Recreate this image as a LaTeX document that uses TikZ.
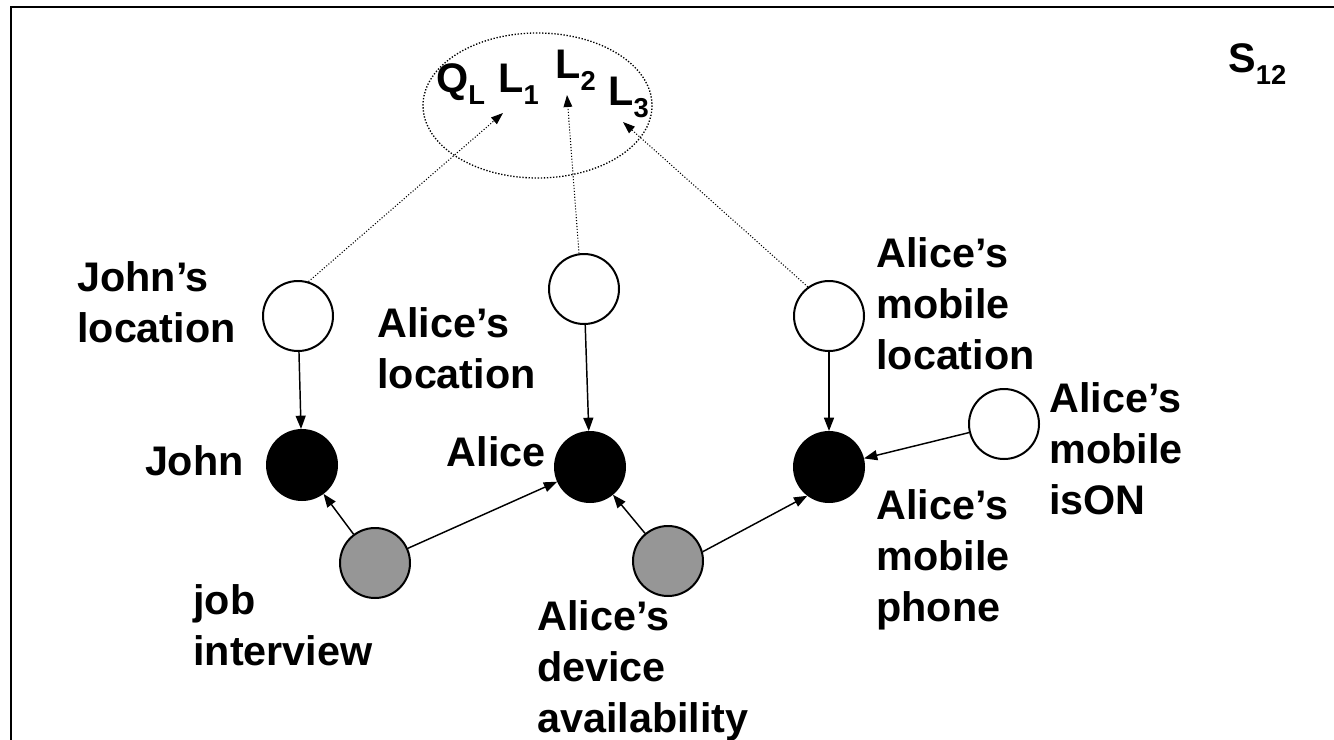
\documentclass[tikz,border=0pt]{standalone}
\usepackage{fontspec}
\setmainfont{Liberation Sans}
\usetikzlibrary{arrows.meta}

% subscript in the label font
\newcommand{\lsub}[1]{\raisebox{-9pt}{\fontsize{20.5}{20.5}\selectfont #1}}

\begin{document}
\begin{tikzpicture}[x=0.75pt, y=-0.75pt,
  lbl/.style={font=\fontsize{31}{38}\selectfont\bfseries, inner sep=0pt, align=left},
  var/.style={circle, draw=black, line width=1.5pt, minimum size=52.5pt, inner sep=0pt},
  obs/.style={var, fill=white},
  ent/.style={var, fill=black},
  evt/.style={var, fill={rgb,255:red,150;green,150;blue,150}},
  link/.style={line width=1.1pt, -{Triangle[length=10pt,width=7.5pt]}},
  query/.style={line width=0.8pt, dash pattern=on 0.8pt off 1.4pt,
                -{Triangle[length=9pt,width=6.5pt]}},
  qring/.style={line width=1pt, dash pattern=on 1pt off 1.3pt}
]
\useasboundingbox (0,0) rectangle (1334,739);

% frame
\draw[line width=1.5pt] (11,745) -- (11,7) -- (1340,7);

% query ellipse and its labels
\draw[qring] (537.5,105.5) ellipse [x radius=114.5, y radius=72.5];
\node[lbl, anchor=base west] (qL) at (436,92) {Q\lsub{L}};
\node[lbl, anchor=base west] (l1) at (498,92) {L\lsub{1}};
\node[lbl, anchor=base west] (l2) at (555,78) {L\lsub{2}};
\node[lbl, anchor=base west] (l3) at (608,105) {L\lsub{3}};
\coordinate (t1) at (503,113);
\coordinate (t2) at (567,95);
\coordinate (t3) at (623,122);

\node[lbl, anchor=base west] (s12) at (1228,72) {S\lsub{12}};

% variables
\node[obs] (jloc) at (298,316) {};
\node[obs] (aloc) at (584,289) {};
\node[obs] (mloc) at (829,316) {};
\node[obs] (ison) at (1004,424) {};
\node[ent] (john) at (302,465) {};
\node[ent] (alice) at (590,467) {};
\node[ent] (mob) at (829,467) {};
\node[evt] (job) at (375,563) {};
\node[evt] (dev) at (668,561) {};

% labels (base = baseline of the last line)
\node[lbl, anchor=base west] (jlocL) at (77,342) {John’s\\location};
\node[lbl, anchor=base east] (johnL) at (244,475) {John};
\node[lbl, anchor=base west] (alocL) at (377,388) {Alice’s\\location};
\node[lbl, anchor=base east] (aliceL) at (546,466) {Alice};
\node[lbl, anchor=base west] (mlocL) at (876,369) {Alice’s\\mobile\\location};
\node[lbl, anchor=base west] (isonL) at (1049,514) {Alice’s\\mobile\\isON};
\node[lbl, anchor=base west] (mobL) at (876,621) {Alice’s\\mobile\\phone};
\node[lbl, anchor=base west] (jobL) at (193,665) {job\\interview};
\node[lbl, anchor=base west] (devL) at (537,732) {Alice’s\\device\\availability};

% dependencies
\draw[link] (jloc) -- (john);
\draw[link] (aloc) -- (alice);
\draw[link] (mloc) -- (mob);
\draw[link] (ison) -- (mob);
\draw[link] (job) -- (john);
\draw[link] (job) -- (alice);
\draw[link] (dev) -- (alice);
\draw[link] (dev.15) -- (mob.233);

% query links
\draw[query] (jloc.73) -- (t1);
\draw[query] (aloc.98) -- (t2);
\draw[query] (mloc.126) -- (t3);
\end{tikzpicture}
\end{document}
